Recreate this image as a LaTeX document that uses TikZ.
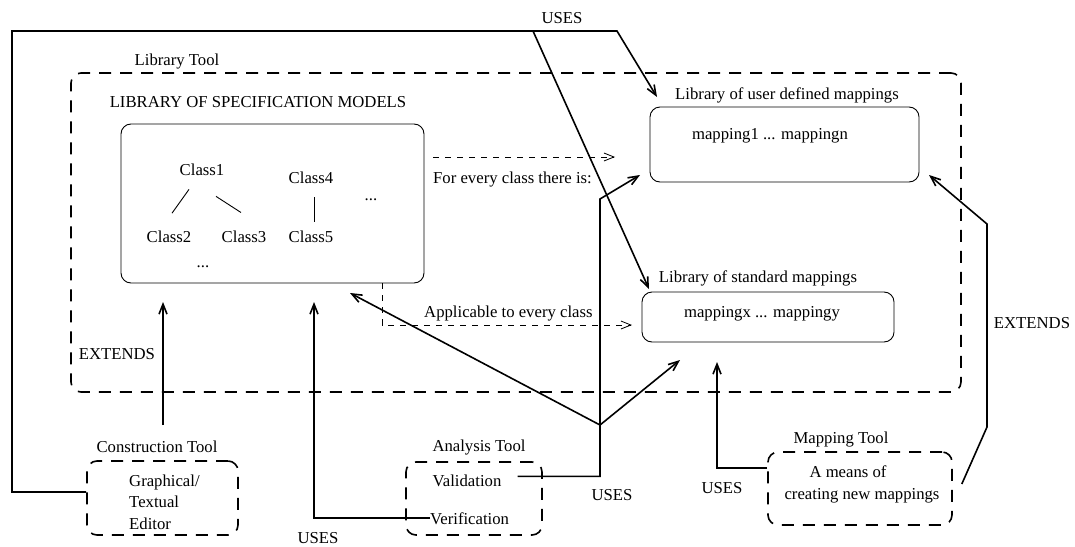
\documentclass[tikz,border=0pt]{standalone}
\usepackage{fontspec}
\setmainfont{Liberation Serif}
\usetikzlibrary{arrows.meta,calc}
\begin{document}
\begin{tikzpicture}[x=1pt,y=-1pt,
  lbl/.style={font=\fontsize{16.7}{19}\selectfont, inner sep=0pt, anchor=base},
  sbox/.style={draw, line width=0.9pt, rounded corners=10pt, inner sep=0pt},
  dbox/.style={draw, line width=1.6pt, dash pattern=on 12pt off 9pt, rounded corners=10pt, inner sep=0pt},
  conn/.style={line width=1.6pt, -{Straight Barb[length=10pt,width=8pt]}},
  dconn/.style={line width=0.8pt, dash pattern=on 6pt off 6pt, -{Straight Barb[length=10pt,width=8pt]}},
  tree/.style={line width=0.9pt}]
\useasboundingbox (0,0) rectangle (1075,546);
% boxes
\node[dbox, minimum width=890pt, minimum height=319pt] (lib) at (516,232.5) {};
\node[sbox, minimum width=303pt, minimum height=159pt] (cls) at (272.5,203.5) {};
\node[sbox, minimum width=269pt, minimum height=75pt] (usr) at (784.5,144.5) {};
\node[sbox, minimum width=252pt, minimum height=50pt] (std) at (768,317) {};
\node[dbox, minimum width=151pt, minimum height=74pt] (cons) at (162.5,498) {};
\node[dbox, minimum width=136pt, minimum height=73pt] (ana) at (474,498.5) {};
\node[dbox, minimum width=184pt, minimum height=73pt] (map) at (860,488.5) {};
% labels
\node[lbl] (libt) at (177,65) {Library Tool};
\node[lbl] (lsm) at (258,107) {LIBRARY OF SPECIFICATION MODELS};
\node[lbl] (c1) at (202,175) {Class1};
\node[lbl] (c4) at (311,183) {Class4};
\node[lbl] (c2) at (169,242) {Class2};
\node[lbl] (c3) at (244,242) {Class3};
\node[lbl] (c5) at (311,242) {Class5};
\node[lbl] (d1) at (371,200) {...};
\node[lbl] (d2) at (203,267) {...};
\node[lbl, anchor=base west] (fec) at (433,183) {For every class there is:};
\node[lbl] (ulab) at (787,99) {Library of user defined mappings};
\node[lbl] (m1) at (770,139) {mapping1 ... mappingn};
\node[lbl] (slab) at (758,282) {Library of standard mappings};
\node[lbl] (mx) at (762,317) {mappingx ... mappingy};
\node[lbl, anchor=base west] (app) at (424,317) {Applicable to every class};
\node[lbl] (extl) at (117,359) {EXTENDS};
\node[lbl] (clab) at (157,452) {Construction Tool};
\node[lbl, anchor=base west] (g1) at (129,486) {Graphical/};
\node[lbl, anchor=base west] (g2) at (129,507) {Textual};
\node[lbl, anchor=base west] (g3) at (129,529) {Editor};
\node[lbl] (alab) at (479,451) {Analysis Tool};
\node[lbl] (val) at (467,486) {Validation};
\node[lbl, anchor=base west] (ver) at (430,524) {Verification};
\node[lbl] (uses1) at (318,543) {USES};
\node[lbl] (uses2) at (612,500) {USES};
\node[lbl] (uses3) at (722,493) {USES};
\node[lbl] (mlab) at (841,443) {Mapping Tool};
\node[lbl] (am1) at (848,477) {A means of};
\node[lbl] (am2) at (862,499) {creating new mappings};
\node[lbl] (extr) at (1032,328) {EXTENDS};
\node[lbl] (uses0) at (562,23) {USES};
% class tree
\draw[tree] ([xshift=-13pt,yshift=-14pt]c1.south) -- ([xshift=3pt,yshift=17pt]c2.north);
\draw[tree] ([xshift=14pt,yshift=-21pt]c1.south) -- ([xshift=-3pt,yshift=17.7pt]c3.north);
\draw[tree] ([xshift=3pt,yshift=-14pt]c4.south) -- ([xshift=3pt,yshift=8pt]c5.north);
% connector end points
\coordinate (uA) at (657,97);
\coordinate (j1) at (533,31);
\coordinate (sA) at (649,289);
\coordinate (cA) at (314,302);
\coordinate (vA) at (640,175);
\coordinate (jv) at (600,425);
\coordinate (cA2) at (350,293);
\coordinate (sA2) at (680,360);
\coordinate (sA3) at (717,362);
\coordinate (uA3) at (929,175);
\coordinate (cA3) at (163,302);
\coordinate (fa1) at (433,157);
\coordinate (fa2) at (615,157);
\coordinate (aa2) at (632,325);
% connectors
\draw[conn] ([yshift=6pt]cons.west) -| (12,31) -- (617,31) -- (uA);
\draw[conn] (j1) -- (sA);
\draw[conn] (ver.west) -| (cA);
\draw[conn] ([xshift=16pt,yshift=4pt]val.east) -| (600,199) -- (vA);
\draw[conn] (jv) -- (cA2);
\draw[conn] (jv) -- (sA2);
\draw[conn] ([yshift=20.5pt]map.west) -| (sA3);
\draw[conn] ([xshift=9pt,yshift=4.5pt]map.east) -- (987,427) -- (987,224) -- (uA3);
\draw[conn] (cA3 |- clab.north) ++(0,-15) -- (cA3);
\draw[dconn] (fa1) -- (fa2);
\draw[dconn] ([xshift=109.5pt]cls.south) |- (aa2);
\end{tikzpicture}
\end{document}
